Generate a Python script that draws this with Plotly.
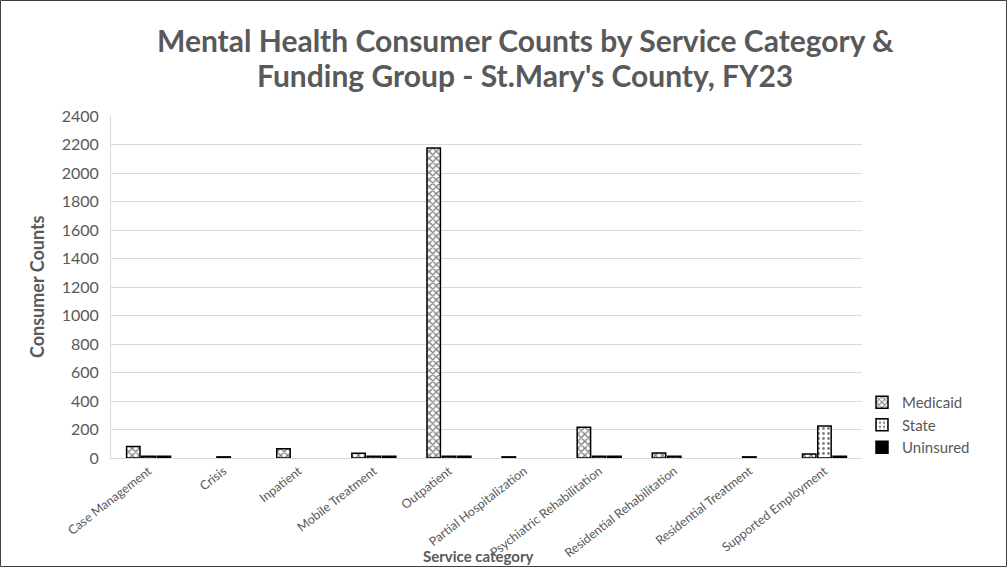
import plotly.graph_objects as go

# Service categories on the x axis
categories = [
    "Case Management", "Crisis", "Inpatient", "Mobile Treatment", "Outpatient",
    "Partial Hospitalization", "Psychiatric Rehabilitation",
    "Residential Rehabilitation", "Residential Treatment", "Supported Employment",
]

# Consumer counts per funding group (None = no consumers reported)
medicaid = [80, None, 65, 33, 2175, 8, 215, 35, None, 28]
state = [12, 8, None, 12, 12, None, 12, 12, 8, 225]
uninsured = [12, None, None, 12, 12, None, 12, None, None, 12]

y_ticks = list(range(0, 2401, 200))

title_lines = [
    "Mental Health Consumer Counts by Service Category &",
    "Funding Group - St.Mary's County, FY23",
]
x_title = "Service category"
y_title = "Consumer Counts"

GRAY = "#595959"
FONT = "Lato, 'Open Sans', sans-serif"

W, H = 1007, 567
ML, MR, MT, MB = 111, 145, 116, 109
pw = W - ML - MR
ph = H - MT - MB


def py(px_from_top):
    """Convert a pixel row (from the top of the page) to paper y."""
    return (H - MB - px_from_top) / ph


def px(px_from_left):
    """Convert a pixel column to paper x."""
    return (px_from_left - ML) / pw


fig = go.Figure()

fig.add_trace(go.Bar(
    name="Medicaid", x=categories, y=medicaid,
    marker=dict(color="white", line=dict(color="black", width=1.5),
                pattern=dict(shape="x", fgcolor="black", bgcolor="white",
                             size=5, solidity=0.45)),
))
fig.add_trace(go.Bar(
    name="State", x=categories, y=state,
    marker=dict(color="white", line=dict(color="black", width=1.5),
                pattern=dict(shape=".", fgcolor="black", bgcolor="white",
                             size=5, solidity=0.25)),
))
fig.add_trace(go.Bar(
    name="Uninsured", x=categories, y=uninsured,
    marker=dict(color="black", line=dict(color="black", width=1.5)),
))

annotations = [
    dict(text=f"<b>{title_lines[0]}</b>", x=px(525), y=py(40),
         font=dict(family=FONT, size=30, color=GRAY)),
    dict(text=f"<b>{title_lines[1]}</b>", x=px(525), y=py(75),
         font=dict(family=FONT, size=30, color=GRAY)),
    dict(text=f"<b>{x_title}</b>", x=px(478), y=py(556),
         font=dict(family=FONT, size=15, color=GRAY)),
    dict(text=f"<b>{y_title}</b>", x=px(37), y=py(287), textangle=-90,
         font=dict(family=FONT, size=18, color=GRAY)),
]
for a in annotations:
    a.update(xref="paper", yref="paper", xanchor="center", yanchor="middle",
             showarrow=False)

fig.update_layout(
    width=W, height=H,
    margin=dict(l=ML, r=MR, t=MT, b=MB),
    paper_bgcolor="white", plot_bgcolor="white",
    font=dict(family=FONT, color=GRAY, size=14),
    barmode="group", bargap=0.39, bargroupgap=0.12,
    legend=dict(
        x=1.0, xanchor="left", y=py(425), yanchor="middle",
        font=dict(size=15, color=GRAY), tracegroupgap=0,
        itemwidth=30,
    ),
    xaxis=dict(
        tickangle=-38, tickfont=dict(size=12.5, color=GRAY),
        showline=True, linecolor="#d9d9d9", linewidth=1,
        ticks="", showgrid=False, automargin=False,
    ),
    yaxis=dict(
        range=[0, 2400], tickvals=y_ticks, ticktext=[str(v) for v in y_ticks],
        tickfont=dict(size=16, color=GRAY), ticklabelstandoff=8,
        showgrid=True, gridcolor="#d9d9d9", gridwidth=1,
        showline=True, linecolor="#d9d9d9", linewidth=1,
        zeroline=False, ticks="", automargin=False,
    ),
    annotations=annotations,
    shapes=[dict(
        type="rect", xref="paper", yref="paper",
        x0=px(0.5), x1=px(W - 0.5), y0=py(H - 0.5), y1=py(0.5),
        line=dict(color="#404040", width=1), fillcolor="rgba(0,0,0,0)",
        layer="above",
    )],
)

fig.write_html("out.html")
